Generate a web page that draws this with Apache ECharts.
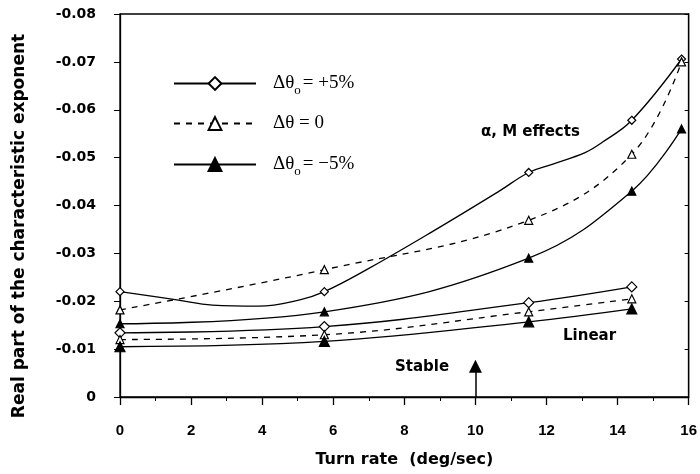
<!DOCTYPE html>
<html>
<head>
<meta charset="utf-8">
<script src="https://cdn.jsdelivr.net/npm/echarts@6/dist/echarts.min.js"></script>
<style>
  html, body { margin: 0; padding: 0; background: #fff; }
  #chart { width: 700px; height: 474px; }
</style>
</head>
<body>
<div id="chart"></div>
<script>
// turn rate of the marked points (deg/sec)
var turnRate = [0, 5.75, 11.5, 14.4, 15.8];
var linRate = [0, 5.75, 11.5, 14.4];

// alpha, M effects curves
var nlPlus = [-0.022, -0.022, -0.0469, -0.0578, -0.0706];
var nlZero = [-0.0182, -0.0266, -0.0369, -0.0507, -0.070];
var nlMinus = [-0.0153, -0.0178, -0.029, -0.043, -0.056];
// unmarked points read along the +5% curve
var nlPlusCurve = [[1.6, -0.0203], [2.6, -0.0192], [3.9, -0.019], [5.06, -0.0203],
                   [6.94, -0.0266], [8.8, -0.0346], [10.67, -0.043],
                   [12.16, -0.0486], [13.1, -0.0511], [13.57, -0.0532]];

// linear curves
var linPlus = [-0.0134, -0.0147, -0.0197, -0.023];
var linZero = [-0.012, -0.013, -0.0178, -0.0205];
var linMinus = [-0.0105, -0.0116, -0.0157, -0.0184];

var names = ['p5', 'z0', 'm5'];
var legendText = {
  p5: '{t|Δθ}{s|o}{t|= +5%}',
  z0: '{t|Δθ = 0}',
  m5: '{t|Δθ}{s|o}{t|= −5%}'
};

function pairs(xs, ys) {
  return xs.map(function (x, i) { return [x, ys[i]]; });
}

function withCurve(marked, extra) {
  var pts = marked.map(function (p) { return { value: p }; });
  extra.forEach(function (p) { pts.push({ value: p, symbol: 'none' }); });
  pts.sort(function (a, b) { return a.value[0] - b.value[0]; });
  return pts;
}

function series(name, data, symbol, filled, dashed, size) {
  return {
    name: name,
    type: 'line',
    data: data,
    smooth: 0.4,
    symbol: symbol,
    symbolSize: size,
    showAllSymbol: true,
    itemStyle: { color: filled ? '#000' : '#fff', borderColor: '#000', borderWidth: 1.2 },
    lineStyle: { color: '#000', width: 1.3, type: dashed ? [6, 6] : 'solid' },
    emphasis: { disabled: true },
    z: 3
  };
}

// one legend block per row so the rows sit where the reference has them
function legendRow(name, top) {
  return {
    data: [name],
    left: 168,
    top: top,
    itemWidth: 82,
    itemHeight: 16,
    selectedMode: false,
    formatter: function (n) { return legendText[n]; },
    textStyle: {
      padding: [0, 0, 0, 12],
      rich: {
        t: { fontFamily: 'Liberation Serif', fontSize: 19, lineHeight: 28, color: '#000' },
        s: { fontFamily: 'Liberation Serif', fontSize: 13, lineHeight: 14, verticalAlign: 'bottom', color: '#000', padding: [0, 2, 0, 0] }
      }
    }
  };
}

var chart = echarts.init(document.getElementById('chart'));

var allSeries = [
  series('p5', withCurve(pairs(turnRate, nlPlus), nlPlusCurve), 'diamond', false, false, 8),
  series('z0', pairs(turnRate, nlZero), 'triangle', false, true, 8),
  series('m5', pairs(turnRate, nlMinus), 'triangle', true, false, 8),
  series('lin p5', pairs(linRate, linPlus), 'diamond', false, false, 10),
  series('lin z0', pairs(linRate, linZero), 'triangle', false, true, 8),
  series('lin m5', pairs(linRate, linMinus), 'triangle', true, false, 10)
];

// "Stable" arrow at 10 deg/sec
allSeries[5].markLine = {
  silent: true,
  symbol: ['none', 'triangle'],
  symbolSize: 13,
  label: { show: false },
  itemStyle: { color: '#000' },
  lineStyle: { color: '#000', width: 1.5, type: 'solid' },
  data: [[{ coord: [10, 0] }, { coord: [10, -0.0064] }]]
};

var boldSans = 'bold 15px "DejaVu Sans"';

chart.setOption({
  backgroundColor: '#fff',
  animation: false,
  grid: { left: 120, right: 10, top: 14, bottom: 77, show: true, borderColor: '#000', borderWidth: 1.3 },
  legend: [legendRow('p5', 69), legendRow('z0', 109), legendRow('m5', 150)],
  xAxis: {
    type: 'value',
    min: 0,
    max: 16,
    interval: 2,
    name: 'Turn rate  (deg/sec)',
    nameLocation: 'middle',
    nameGap: 55,
    nameTextStyle: { fontFamily: 'DejaVu Sans', fontWeight: 'bold', fontSize: 16, color: '#000' },
    axisLine: { lineStyle: { color: '#000', width: 1.3 } },
    axisTick: { inside: false, length: 8, lineStyle: { color: '#000', width: 1.3 } },
    minorTick: { show: true, splitNumber: 2, length: 4, lineStyle: { color: '#000', width: 1 } },
    axisLabel: { margin: 26, fontFamily: 'Liberation Sans', fontWeight: 'bold', fontSize: 15, color: '#000' },
    splitLine: { show: false }
  },
  yAxis: [{
    type: 'value',
    inverse: true,
    min: -0.08,
    max: 0,
    interval: 0.01,
    axisLine: { show: true, lineStyle: { color: '#000', width: 1.3 } },
    axisTick: { show: true, inside: false, length: 6, lineStyle: { color: '#000', width: 1 } },
    axisLabel: {
      margin: 24,
      fontFamily: 'DejaVu Sans',
      fontWeight: 'bold',
      fontSize: 14,
      color: '#000',
      formatter: function (v) { return v === 0 ? '0' : v.toFixed(2); }
    },
    splitLine: { show: false }
  }, {
    type: 'value',
    inverse: true,
    position: 'right',
    min: -0.08,
    max: 0,
    interval: 0.01,
    axisLine: { show: true, lineStyle: { color: '#000', width: 1.3 } },
    axisTick: { show: true, inside: true, length: 4, lineStyle: { color: '#000', width: 1 } },
    axisLabel: { show: false },
    splitLine: { show: false }
  }],
  graphic: [
    {
      type: 'text', x: 20, y: 226, rotation: Math.PI / 2,
      style: { text: 'Real part of the characteristic exponent', font: 'bold 17px "DejaVu Sans"', fill: '#000', align: 'center', verticalAlign: 'middle' }
    },
    { type: 'text', left: 481, top: 125, style: { text: 'α, M effects', font: boldSans, fill: '#000' } },
    { type: 'text', left: 563, top: 329, style: { text: 'Linear', font: boldSans, fill: '#000' } },
    { type: 'text', left: 395, top: 360, style: { text: 'Stable', font: boldSans, fill: '#000' } }
  ],
  series: allSeries
});
</script>
</body>
</html>
